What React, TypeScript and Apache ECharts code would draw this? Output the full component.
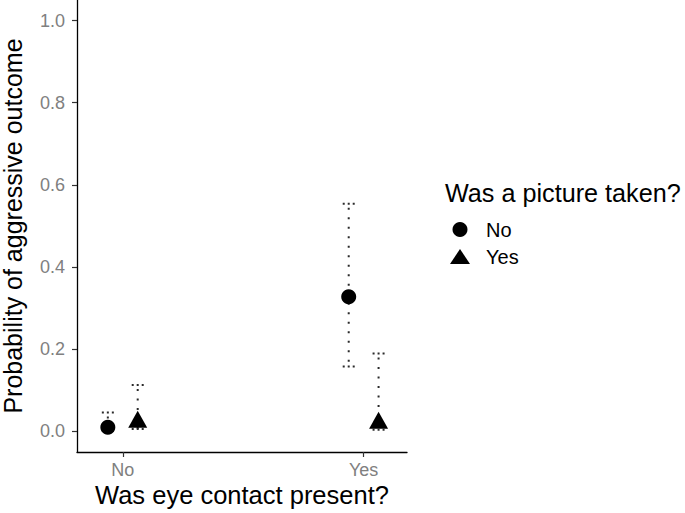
import { useEffect, useRef } from 'react';
import * as echarts from 'echarts';

// eye contact groups (x axis)
const categories = ['No', 'Yes'];
// legend groups: was a picture taken?
const pictureGroups = ['No', 'Yes'];

// estimated probabilities, picture = No
const noPicProb = [0.01, 0.328];
const noPicLow = [0.001, 0.158];
const noPicHigh = [0.046, 0.554];

// estimated probabilities, picture = Yes
const yesPicProb = [0.03, 0.027];
const yesPicLow = [0.006, 0.004];
const yesPicHigh = [0.113, 0.19];

const yTicks = [0, 0.2, 0.4, 0.6, 0.8, 1.0];

const dodge = 0.062;
const font = '"Liberation Sans", Arial, sans-serif';

export default function App() {
  const chartRef = useRef<HTMLDivElement>(null);

  useEffect(() => {
    if (!chartRef.current) return;
    const chart = echarts.init(chartRef.current, null, { renderer: 'svg' });

    const xPos = (i: number, g: number) => i + 1 + (g === 0 ? -dodge : dodge);

    const errData = (low: number[], high: number[], g: number) =>
      categories.map((_, i) => [xPos(i, g), low[i], high[i]]);

    const renderErr = (params: any, api: any) => {
      const x = api.value(0);
      const top = api.coord([x, api.value(2)]);
      const bot = api.coord([x, api.value(1)]);
      const hw = 6;
      const dots = { stroke: '#2b2b2b', lineWidth: 2, lineDash: [2, 7.5], fill: null };
      const capDots = { stroke: '#2b2b2b', lineWidth: 2, lineDash: [2, 3], fill: null };
      return {
        type: 'group',
        children: [
          { type: 'line', shape: { x1: top[0] - hw, y1: top[1], x2: top[0] + hw, y2: top[1] }, style: capDots },
          { type: 'line', shape: { x1: top[0], y1: top[1] + 4, x2: bot[0], y2: bot[1] }, style: dots },
          { type: 'line', shape: { x1: bot[0] - hw, y1: bot[1], x2: bot[0] + hw, y2: bot[1] }, style: capDots },
        ],
      };
    };

    const option: any = {
      animation: false,
      backgroundColor: '#ffffff',
      textStyle: { fontFamily: font },
      title: {
        text: 'Was a picture taken?',
        left: 440,
        top: 175,
        textStyle: { fontFamily: font, fontSize: 25.2, fontWeight: 'normal', color: '#000' },
      },
      legend: {
        data: pictureGroups,
        orient: 'vertical',
        left: 445,
        top: 214,
        itemWidth: 20,
        itemHeight: 15,
        itemGap: 6,
        textStyle: { fontFamily: font, fontSize: 20, color: '#000', lineHeight: 21, padding: [0, 0, 0, 11] },
      },
      grid: { left: 77, right: 278, top: 0, bottom: 61, containLabel: false, outerBoundsMode: 'none' },
      xAxis: {
        type: 'value',
        min: 0.81,
        max: 2.18,
        name: 'Was eye contact present?',
        nameLocation: 'middle',
        nameGap: 30,
        nameMoveOverlap: false,
        nameTextStyle: { fontFamily: font, fontSize: 25.5, color: '#000' },
        axisLine: { show: true, onZero: false, lineStyle: { color: '#000', width: 1.3 } },
        axisTick: { show: true, length: 5, lineStyle: { color: '#333', width: 1.2 }, customValues: [1, 2] },
        axisLabel: {
          customValues: [1, 2],
          formatter: (v: number) => categories[Math.round(v) - 1] ?? '',
          fontFamily: font,
          fontSize: 18,
          color: '#808080',
          margin: 9,
        },
        splitLine: { show: false },
      },
      yAxis: {
        type: 'value',
        min: -0.05,
        max: 1.05,
        name: 'Probability of aggressive outcome',
        nameLocation: 'middle',
        nameGap: 52,
        nameMoveOverlap: false,
        nameTextStyle: { fontFamily: font, fontSize: 25, color: '#000' },
        axisLine: { show: true, onZero: false, lineStyle: { color: '#000', width: 1.3 } },
        axisTick: { show: true, length: 5, lineStyle: { color: '#333', width: 1.2 }, customValues: yTicks },
        axisLabel: {
          customValues: yTicks,
          formatter: (v: number) => v.toFixed(1),
          fontFamily: font,
          fontSize: 18,
          color: '#808080',
          margin: 12,
        },
        splitLine: { show: false },
      },
      series: [
        {
          type: 'custom',
          name: 'err-no',
          renderItem: renderErr,
          data: errData(noPicLow, noPicHigh, 0),
          encode: { x: 0, y: [1, 2] },
          z: 1,
          silent: true,
        },
        {
          type: 'custom',
          name: 'err-yes',
          renderItem: renderErr,
          data: errData(yesPicLow, yesPicHigh, 1),
          encode: { x: 0, y: [1, 2] },
          z: 1,
          silent: true,
        },
        {
          type: 'scatter',
          name: pictureGroups[0],
          symbol: 'circle',
          symbolSize: 15,
          itemStyle: { color: '#000', opacity: 1 },
          data: categories.map((_, i) => [xPos(i, 0), noPicProb[i]]),
          z: 3,
        },
        {
          type: 'scatter',
          name: pictureGroups[1],
          symbol: 'triangle',
          symbolSize: [19, 17],
          itemStyle: { color: '#000', opacity: 1 },
          data: categories.map((_, i) => [xPos(i, 1), yesPicProb[i]]),
          z: 3,
        },
      ],
    };

    chart.setOption(option);
    return () => {
      chart.dispose();
    };
  }, []);

  return (
    <div
      ref={chartRef}
      style={{ position: 'fixed', left: 0, top: 0, width: 685, height: 513 }}
    />
  );
}
